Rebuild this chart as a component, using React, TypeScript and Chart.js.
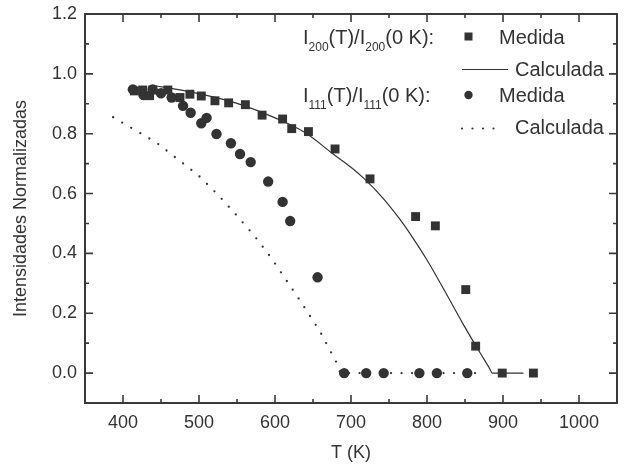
import React, { useEffect, useRef } from 'react';
import { Chart, registerables } from 'chart.js';

Chart.register(...registerables);

// I200(T)/I200(0 K) measured (squares)
const squareT = [415, 426, 435, 439, 459, 475, 488, 503, 521, 539, 561, 583, 610, 622, 644, 679, 725, 785, 811, 851, 864, 899, 940];
const squareI = [0.943, 0.946, 0.927, 0.946, 0.946, 0.921, 0.932, 0.926, 0.91, 0.903, 0.897, 0.862, 0.849, 0.817, 0.807, 0.749, 0.649, 0.523, 0.492, 0.279, 0.09, 0, 0];

// I111(T)/I111(0 K) measured (circles)
const circleT = [413, 427, 439, 450, 464, 479, 489, 503, 510, 523, 542, 554, 568, 591, 610, 620, 656, 691, 720, 743, 790, 813, 853];
const circleI = [0.948, 0.929, 0.948, 0.935, 0.921, 0.893, 0.87, 0.835, 0.853, 0.799, 0.768, 0.732, 0.705, 0.64, 0.572, 0.508, 0.32, 0, 0, 0, 0, 0, 0];

// I200 calculated (solid line)
const calc200T = [440, 480, 520, 560, 600, 640, 676, 700, 718, 742, 764, 780, 800, 823, 847, 865, 882, 886, 927];
const calc200I = [0.961, 0.944, 0.922, 0.893, 0.853, 0.803, 0.733, 0.688, 0.648, 0.585, 0.515, 0.457, 0.378, 0.276, 0.166, 0.088, 0.017, 0, 0];

// I111 calculated (dotted line)
const calc111T = [387, 444, 499, 526, 551, 574, 595, 632, 659, 681, 686, 871];
const calc111I = [0.855, 0.77, 0.661, 0.593, 0.523, 0.455, 0.385, 0.246, 0.14, 0.035, 0, 0];

const xTicks = [400, 500, 600, 700, 800, 900, 1000];
const xMinorTicks = [450, 550, 650, 750, 850, 950];
const yTicks = [0, 0.2, 0.4, 0.6, 0.8, 1.0, 1.2];
const yMinorTicks = [0.1, 0.3, 0.5, 0.7, 0.9, 1.1];

const xTitle = 'T (K)';
const yTitle = 'Intensidades Normalizadas';

const FONT = '"Liberation Sans", Arial, Helvetica, sans-serif';
const INK = '#333333';

const toPts = (xs: number[], ys: number[]) => xs.map((x, i) => ({ x, y: ys[i] }));

const framePlugin = {
  id: 'frameTicks',
  afterDraw(chart: any) {
    const { ctx, chartArea, scales } = chart;
    const { left, right, top, bottom } = chartArea;
    const x = scales.x;
    const y = scales.y;
    ctx.save();
    ctx.strokeStyle = '#3a3a3a';
    ctx.lineWidth = 2;
    ctx.strokeRect(left, top, right - left, bottom - top);
    ctx.lineWidth = 1.6;
    const drawX = (vals: number[], len: number) => {
      vals.forEach((v) => {
        const px = x.getPixelForValue(v);
        ctx.beginPath();
        ctx.moveTo(px, bottom);
        ctx.lineTo(px, bottom - len);
        ctx.moveTo(px, top);
        ctx.lineTo(px, top + len);
        ctx.stroke();
      });
    };
    const drawY = (vals: number[], len: number) => {
      vals.forEach((v) => {
        const py = y.getPixelForValue(v);
        ctx.beginPath();
        ctx.moveTo(left, py);
        ctx.lineTo(left + len, py);
        ctx.moveTo(right, py);
        ctx.lineTo(right - len, py);
        ctx.stroke();
      });
    };
    drawX(xTicks, 8);
    drawX(xMinorTicks, 4);
    drawY(yTicks, 8);
    drawY(yMinorTicks, 4);
    ctx.restore();
  },
};

const legendPlugin = {
  id: 'customLegend',
  afterDraw(chart: any) {
    const { ctx } = chart;
    ctx.save();
    ctx.fillStyle = INK;
    ctx.strokeStyle = INK;
    ctx.textBaseline = 'alphabetic';
    ctx.textAlign = 'left';
    const main = `20px ${FONT}`;
    const sub = `12px ${FONT}`;
    const drawParts = (x0: number, base: number, parts: [string, boolean][]) => {
      let x = x0;
      parts.forEach(([t, isSub]) => {
        ctx.font = isSub ? sub : main;
        ctx.fillText(t, x, isSub ? base + 7 : base);
        x += ctx.measureText(t).width;
      });
    };
    drawParts(303, 44, [['I', false], ['200', true], ['(T)/I', false], ['200', true], ['(0 K):', false]]);
    drawParts(303, 101.5, [['I', false], ['111', true], ['(T)/I', false], ['111', true], ['(0 K):', false]]);
    ctx.font = main;
    ctx.fillText('Medida', 499, 44);
    ctx.fillText('Calculada', 515, 76);
    ctx.fillText('Medida', 499, 101.5);
    ctx.fillText('Calculada', 515, 134);
    // square marker
    ctx.fillRect(468.5 - 4, 36.5 - 4, 8, 8);
    // circle marker
    ctx.beginPath();
    ctx.arc(468.5, 95, 4.2, 0, Math.PI * 2);
    ctx.fill();
    // solid line
    ctx.lineWidth = 1.2;
    ctx.beginPath();
    ctx.moveTo(462, 69.5);
    ctx.lineTo(508, 69.5);
    ctx.stroke();
    // dotted line
    ctx.lineWidth = 2.2;
    ctx.lineCap = 'round';
    ctx.setLineDash([0, 10.5]);
    ctx.beginPath();
    ctx.moveTo(462, 128.5);
    ctx.lineTo(504, 128.5);
    ctx.stroke();
    ctx.restore();
  },
};

export default function App() {
  const ref = useRef<HTMLCanvasElement | null>(null);
  useEffect(() => {
    if (!ref.current) return;
    const chart = new Chart(ref.current, {
      type: 'scatter',
      data: {
        datasets: [
          {
            label: 'I200 Medida',
            data: toPts(squareT, squareI),
            pointStyle: 'rect',
            pointRadius: 6.3,
            backgroundColor: INK,
            borderWidth: 0,
            showLine: false,
            order: 0,
          },
          {
            label: 'I111 Medida',
            data: toPts(circleT, circleI),
            pointStyle: 'circle',
            pointRadius: 5.2,
            backgroundColor: INK,
            borderWidth: 0,
            showLine: false,
            order: 0,
          },
          {
            label: 'I200 Calculada',
            data: toPts(calc200T, calc200I),
            showLine: true,
            pointRadius: 0,
            borderColor: INK,
            borderWidth: 1.2,
            cubicInterpolationMode: 'monotone',
            order: 1,
          },
          {
            label: 'I111 Calculada',
            data: toPts(calc111T, calc111I),
            showLine: true,
            pointRadius: 0,
            borderColor: INK,
            borderWidth: 2.3,
            borderDash: [0, 10.5],
            borderCapStyle: 'round',
            order: 1,
          },
        ],
      } as any,
      options: {
        animation: false,
        responsive: false,
        devicePixelRatio: 1,
        layout: { padding: { top: 14, right: 9, left: 0, bottom: 0 } },
        plugins: { legend: { display: false }, tooltip: { enabled: false } },
        scales: {
          x: {
            type: 'linear',
            min: 350,
            max: 1050,
            afterBuildTicks: (s: any) => {
              s.ticks = xTicks.map((value) => ({ value }));
            },
            afterFit: (s: any) => {
              s.height = 65;
              s.paddingLeft = 0;
              s.paddingRight = 0;
            },
            grid: { display: false, drawTicks: false },
            border: { display: false },
            ticks: {
              padding: 9,
              color: INK,
              font: { family: FONT, size: 18 },
              callback: (v: any) => String(v),
              maxRotation: 0,
            },
            title: {
              display: true,
              text: xTitle,
              color: INK,
              font: { family: FONT, size: 18 },
              padding: { top: 0, bottom: 4 },
            },
          },
          y: {
            type: 'linear',
            min: -0.1,
            max: 1.2,
            afterBuildTicks: (s: any) => {
              s.ticks = yTicks.map((value) => ({ value }));
            },
            afterFit: (s: any) => {
              s.width = 85;
              s.paddingTop = 0;
              s.paddingBottom = 0;
            },
            grid: { display: false, drawTicks: false },
            border: { display: false },
            ticks: {
              padding: 8,
              color: INK,
              font: { family: FONT, size: 18 },
              callback: (v: any) => Number(v).toFixed(1),
            },
            title: {
              display: true,
              text: yTitle,
              color: INK,
              font: { family: FONT, size: 18 },
              padding: { top: 10, bottom: 0 },
            },
          },
        },
      } as any,
      plugins: [framePlugin, legendPlugin],
    });
    return () => chart.destroy();
  }, []);
  return (
    <div style={{ position: 'fixed', left: 0, top: 0, width: 626, height: 468, background: '#fff' }}>
      <canvas ref={ref} width={626} height={468} style={{ width: 626, height: 468, display: 'block' }} />
    </div>
  );
}
